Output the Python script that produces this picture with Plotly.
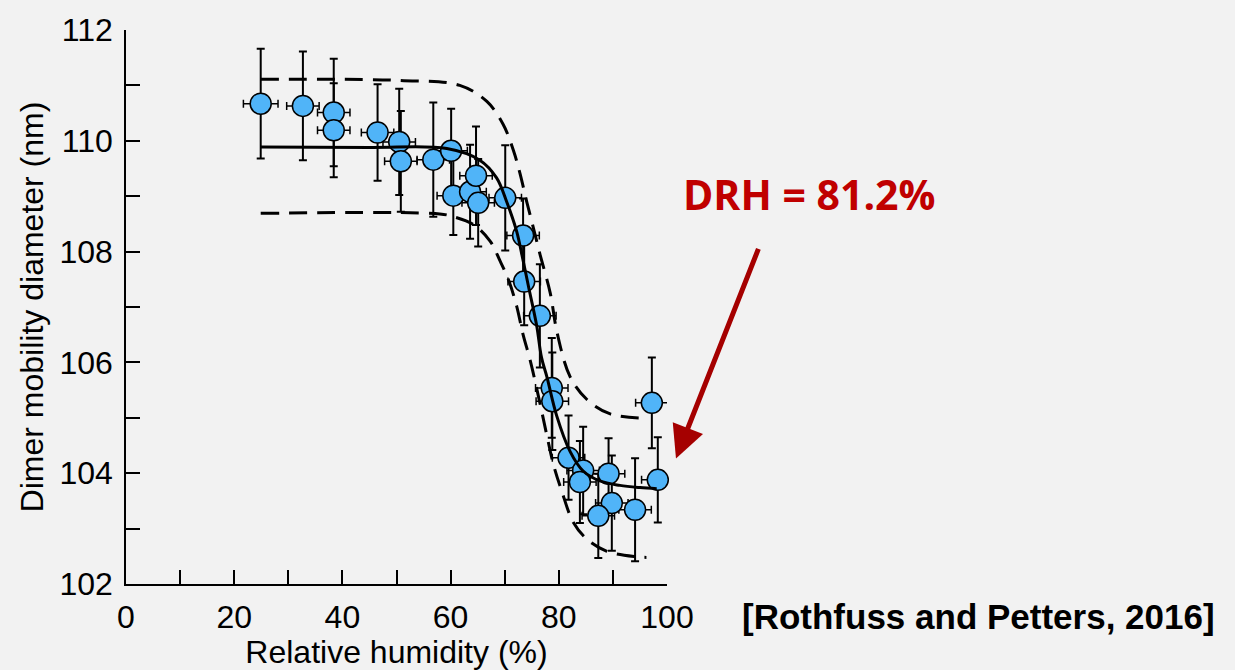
import plotly.graph_objects as go

rh = [24.9, 32.7, 38.4, 38.4, 46.5, 50.5, 50.8, 56.8, 60.1, 60.5, 63.6, 64.7, 65.1, 70.1,
      73.4, 73.6, 76.5, 78.7, 78.8, 81.8, 84.5, 83.9, 89.2, 89.8, 87.3, 94.1, 97.2, 98.3]
dm = [110.67, 110.63, 110.51, 110.19, 110.15, 109.98, 109.63, 109.66, 109.82, 109.01, 109.08,
      109.37, 108.88, 108.97, 108.29, 107.46, 106.84, 105.54, 105.30, 104.28, 104.05, 103.84,
      103.99, 103.46, 103.23, 103.34, 105.27, 103.88]
dm_err = [0.99, 0.98, 0.97, 0.85, 0.87, 0.96, 0.91, 1.03, 0.76, 0.71, 0.85, 0.89, 0.79, 0.95,
          0.67, 0.79, 0.93, 0.90, 0.88, 0.76, 0.79, 0.74, 0.64, 0.86, 0.76, 0.93, 0.82, 0.77]
rh_err = [3.2, 3.0, 3.0, 3.0, 3.0, 3.0, 3.0, 3.0, 3.0, 3.0, 3.0, 3.0, 3.0, 3.0,
          3.0, 3.0, 3.0, 3.0, 3.0, 3.0, 3.0, 3.0, 3.0, 3.0, 3.0, 3.0, 3.0, 3.0]

fit_rh = [24.9, 45.0, 59.3, 65.4, 68.5, 70.4, 72.2, 73.4, 74.4, 75.9, 76.8, 77.8, 79.6,
          82.1, 84.5, 87.6, 91.3, 95.0, 98.1]
fit_dm = [109.89, 109.88, 109.86, 109.65, 109.33, 108.89, 108.37, 107.84, 107.37, 106.67,
          106.09, 105.74, 105.04, 104.39, 104.04, 103.86, 103.78, 103.74, 103.72]

up_rh = [24.9, 50.6, 61.7, 66.7, 69.7, 71.6, 72.8, 74.1, 75.3, 76.5, 78.4, 79.7, 82.1,
         85.2, 89.5, 96.2]
up_dm = [111.11, 111.09, 111.00, 110.71, 110.30, 109.83, 109.42, 108.89, 108.43, 107.96,
         107.26, 106.53, 105.74, 105.33, 105.07, 104.99]

lo_rh = [24.9, 58.0, 60.5, 64.2, 67.3, 69.1, 70.7, 72.2, 73.4, 74.7, 76.5, 77.8, 79.0,
         80.5, 82.7, 85.2, 88.9, 94.4, 96.2]
lo_dm = [108.69, 108.68, 108.63, 108.49, 108.19, 107.84, 107.49, 107.02, 106.50, 106.04,
         105.27, 104.68, 104.16, 103.69, 103.11, 102.81, 102.59, 102.49, 102.48]

x_ticks = [0, 10, 20, 30, 40, 50, 60, 70, 80, 90, 100]
x_labels = ["0", "", "20", "", "40", "", "60", "", "80", "", "100"]
y_ticks = [102, 103, 104, 105, 106, 107, 108, 109, 110, 111, 112]
y_labels = ["102", "", "104", "", "106", "", "108", "", "110", "", "112"]

x_title = "Relative humidity (%)"
y_title = "Dimer mobility diameter (nm)"
drh_text = "DRH = 81.2%"
cite_text = "[Rothfuss and Petters, 2016]"

BG = "#F2F2F2"
FONT = "Liberation Sans, Arial, Helvetica, sans-serif"

fig = go.Figure()

fig.add_trace(go.Scatter(
    x=rh, y=dm, mode="markers",
    marker=dict(size=21, color="#50B4F8", line=dict(color="black", width=1.5)),
    error_y=dict(type="data", array=dm_err, color="black", thickness=2, width=4),
    error_x=dict(type="data", array=rh_err, color="black", thickness=1.5, width=4),
    showlegend=False, cliponaxis=False,
))

dash_style = "18px,10px"
fig.add_trace(go.Scatter(x=up_rh, y=up_dm, mode="lines",
                         line=dict(color="black", width=3, dash=dash_style, shape="spline"),
                         showlegend=False))
fig.add_trace(go.Scatter(x=lo_rh, y=lo_dm, mode="lines",
                         line=dict(color="black", width=3, dash=dash_style, shape="spline"),
                         showlegend=False))
fig.add_trace(go.Scatter(x=fit_rh, y=fit_dm, mode="lines",
                         line=dict(color="black", width=3, shape="spline"),
                         showlegend=False))

axis_common = dict(
    showline=True, linecolor="black", linewidth=1.5, ticks="inside", ticklen=14,
    tickwidth=1.5, tickcolor="black", showgrid=False, zeroline=False, mirror=False,
    tickfont=dict(family=FONT, size=32, color="black"),
)

fig.update_xaxes(range=[0, 100], tickmode="array", tickvals=x_ticks, ticktext=x_labels,
                 title=dict(text=x_title, font=dict(family=FONT, size=32, color="black"), standoff=0),
                 ticklabelstandoff=4, **axis_common)
fig.update_yaxes(range=[102, 112], tickmode="array", tickvals=y_ticks, ticktext=y_labels,
                 title=dict(text=y_title, font=dict(family=FONT, size=32, color="black"), standoff=6),
                 ticklabelstandoff=5, **axis_common)

fig.add_annotation(xref="paper", yref="paper", x=1.0166, y=(593 - 464) / 569,
                   ax=83, ay=-211, axref="pixel", ayref="pixel", text="",
                   showarrow=True, arrowhead=2, arrowsize=1.3, arrowwidth=5, arrowcolor="#A50000")

fig.add_annotation(xref="paper", yref="paper", x=(809 - 126) / 541, y=(593 - 192) / 569,
                   text=f"<b>{drh_text}</b>", showarrow=False,
                   font=dict(family="Open Sans, Lato, sans-serif", size=41, color="#C00000"),
                   xanchor="center", yanchor="middle")

fig.add_annotation(xref="paper", yref="paper", x=(978 - 126) / 541, y=(593 - 626) / 569,
                   text=f"<b>{cite_text}</b>", showarrow=False,
                   font=dict(family=FONT, size=35, color="black"),
                   xanchor="center", yanchor="middle")

fig.update_layout(
    width=1235, height=670,
    margin=dict(l=126, r=568, t=24, b=77),
    paper_bgcolor=BG, plot_bgcolor=BG,
)

fig.write_html("out.html")
